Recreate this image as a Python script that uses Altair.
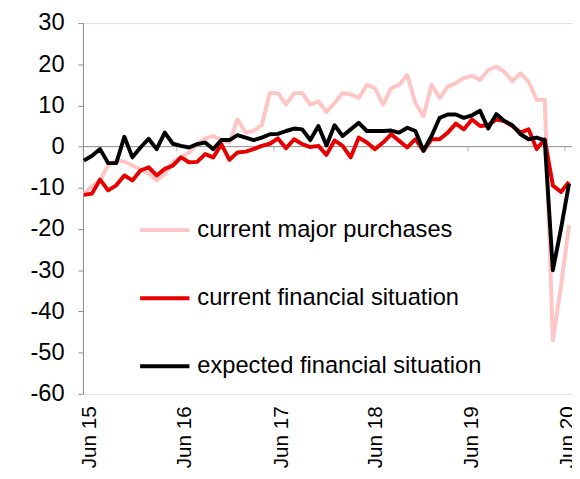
import altair as alt
import pandas as pd

# Monthly observations, Jun 2015 .. Jun 2020 (61 months), index 0 = Jun 15
series_names = ["current major purchases", "current financial situation", "expected financial situation"]
series_colors = ["#ffc4c4", "#e60000", "#000000"]

major_purchases = [
    -11.5, -9.6, -8.2, -4.5, -3.4, -3.6, -4.6, -5.5, -6.5, -8.2,
    -6.6, -3.8, -2.6, -1.5, 0.6, 2.0, 2.6, 1.6, 1.0, 6.6,
    3.4, 3.8, 5.2, 13.0, 13.0, 10.2, 13.0, 13.0, 10.2, 11.0,
    8.4, 10.6, 13.0, 12.7, 11.8, 15.0, 14.2, 10.2, 14.2, 15.0,
    17.4, 10.6, 7.4, 15.0, 11.8, 14.6, 15.4, 16.7, 17.2, 16.2,
    18.6, 19.4, 18.2, 15.9, 17.8, 15.8, 11.4, 11.4, -47.0, -34.0,
    -19.0,
]
financial_current = [
    -11.7, -11.4, -8.0, -10.6, -9.4, -7.0, -8.2, -5.8, -5.0, -7.0,
    -5.4, -4.6, -2.6, -3.8, -3.7, -1.8, -2.6, 0.6, -3.2, -1.4,
    -1.2, -0.6, 0.2, 0.7, 2.0, -0.4, 1.8, 0.6, -0.1, 0.2,
    -2.0, 1.5, 0.2, -2.6, 2.2, 1.0, -0.6, 1.0, 3.0, 1.4,
    -0.2, 1.8, -1.0, 1.8, 1.8, 3.4, 5.6, 4.2, 6.6, 5.0,
    5.2, 6.6, 6.2, 5.0, 3.4, 4.2, -0.6, 1.8, -9.4, -11.0,
    -8.6,
]
financial_expected = [
    -3.4, -2.2, -0.6, -4.0, -4.0, 2.4, -2.6, -0.2, 1.9, -0.6,
    3.4, 0.7, 0.2, -0.2, 0.6, 1.0, -0.6, 1.6, 1.6, 2.8,
    2.2, 1.6, 2.2, 3.0, 3.1, 3.8, 4.4, 4.2, 1.6, 5.0,
    0.3, 5.2, 2.6, 4.2, 5.8, 3.8, 3.8, 3.8, 3.9, 3.4,
    4.6, 3.8, -1.0, 2.6, 7.0, 7.8, 7.8, 7.0, 7.6, 8.7,
    4.4, 7.9, 6.2, 5.2, 3.0, 1.8, 2.2, 1.5, -30.0, -20.0,
    -9.0,
]

tick_labels = ["Jun 15", "Jun 16", "Jun 17", "Jun 18", "Jun 19", "Jun 20"]
# where the category labels sit along the month axis
label_positions = [0.7, 12.4, 24.4, 36.1, 47.9, 59.8]
year_boundaries = [11.5, 23.5, 35.5, 47.5, 59.5]
y_ticks = [-60, -50, -40, -30, -20, -10, 0, 10, 20, 30]

rows = []
for name, vals in zip(series_names, [major_purchases, financial_current, financial_expected]):
    for i, v in enumerate(vals):
        rows.append({"month": i, "value": v, "series": name})
df = pd.DataFrame(rows)

FONT = "Liberation Sans"
GREY = "#8c8c8c"

label_expr = "[" + ",".join("'" + t + "'" for t in tick_labels) + "][round(datum.value/12)]"

x_enc = alt.X(
    "month:Q",
    scale=alt.Scale(domain=[-0.12, 60.37], nice=False, zero=False),
    axis=alt.Axis(
        values=label_positions, labelExpr=label_expr, labelAngle=-90,
        labelFontSize=21, labelFont=FONT, labelColor="#000000",
        domain=False, ticks=False, grid=False, labelPadding=12,
        title=None,
    ),
)
y_enc = alt.Y(
    "value:Q",
    scale=alt.Scale(domain=[-60, 30], nice=False, zero=False),
    axis=alt.Axis(
        values=y_ticks, labelExpr="datum.value + ''",
        labelFontSize=24, labelFont=FONT, labelColor="#000000",
        tickSize=5, tickColor=GREY, domainColor=GREY, grid=False,
        labelPadding=14, title=None,
    ),
)
color_enc = alt.Color(
    "series:N",
    scale=alt.Scale(domain=series_names, range=series_colors),
    legend=alt.Legend(
        orient="none", legendX=56, legendY=183, direction="vertical",
        title=None, symbolType="stroke", symbolSize=2500, symbolStrokeWidth=4,
        labelFontSize=24, labelFont=FONT, labelColor="#000000", labelOffset=6,
        rowPadding=30, padding=0, labelLimit=400,
    ),
)

zero_line = alt.Chart(pd.DataFrame({"v": [0]})).mark_rule(color=GREY, strokeWidth=1).encode(y="v:Q")
year_ticks = alt.Chart(pd.DataFrame({"m": year_boundaries})).mark_tick(
    orient="vertical", size=5, thickness=1, yOffset=2.5, color=GREY
).encode(x=alt.X("m:Q"), y=alt.datum(0))

layers = [zero_line, year_ticks]
for name in series_names:
    layers.append(
        alt.Chart(df).transform_filter(alt.datum.series == name)
        .mark_line(strokeWidth=4, strokeJoin="round")
        .encode(x=x_enc, y=y_enc, color=color_enc)
    )

chart = alt.layer(*layers).properties(
    width=496, height=376, autosize=alt.AutoSizeParams(type="none"),
    padding={"left": 76, "top": 12, "right": 0, "bottom": 75},
).configure_view(stroke=None).configure(font=FONT)

chart.save("out.html", embed_options={"renderer": "svg", "actions": False})
